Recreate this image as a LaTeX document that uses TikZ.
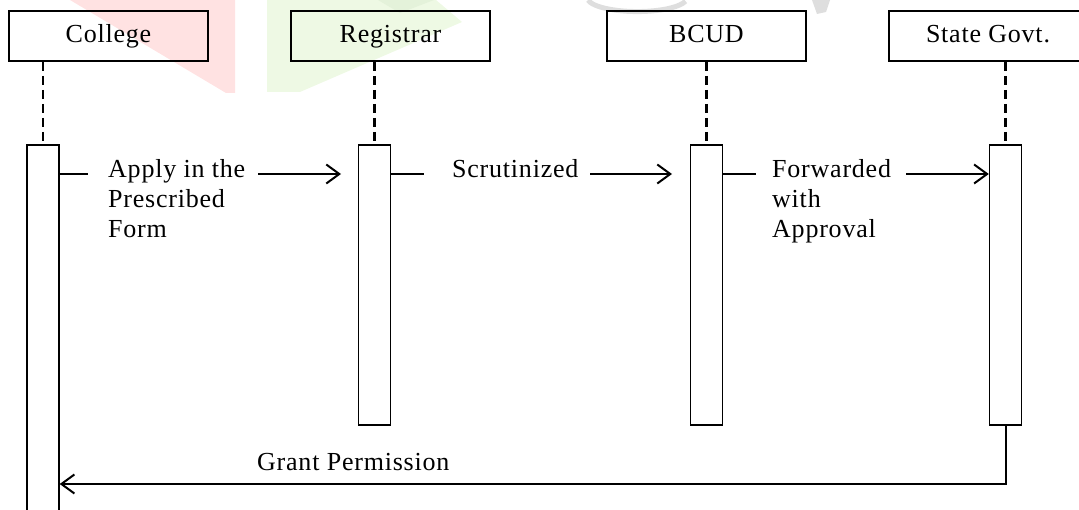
\documentclass[tikz,border=0pt]{standalone}
\usepackage{fontspec}
\setmainfont{Liberation Serif}[LetterSpace=3]
\usetikzlibrary{arrows.meta}

\definecolor{wmred}{RGB}{255,226,226}
\definecolor{wmgreen}{RGB}{238,249,228}
\definecolor{wmgreendk}{RGB}{228,242,218}
\definecolor{wmgrey}{RGB}{222,222,222}

\tikzset{
  head/.style={draw, line width=2pt, minimum width=199pt, minimum height=50pt,
    inner sep=0pt, text height=19pt, text depth=5pt,
    font=\fontsize{26}{30}\selectfont},
  act/.style={draw, line width=1.4pt, minimum width=32pt, inner sep=0pt},
  lifeline/.style={line width=2.4pt, dash pattern=on 9pt off 5pt},
  msg/.style={line width=2pt},
  tip/.style={-{Straight Barb[length=13pt,width=19pt]}},
  lbl/.style={inner sep=0pt, align=left, font=\fontsize{26}{30}\selectfont}
}

\begin{document}
\begin{tikzpicture}[x=1pt,y=-1pt]
\useasboundingbox (0,0) rectangle (1079,510);
\clip (0,0) rectangle (1079,510);

% faint logo shapes behind the headers
\fill[wmred] (70,0) -- (235,0) -- (235,93) -- (226,93) -- cycle;
\fill[wmgreen] (267,0) -- (436,0) -- (462,22) -- (300,92) -- (267,92) -- cycle;
\fill[wmgreendk] (378,0) -- (434,0) -- (400,13) -- cycle;
\draw[wmgrey, line width=5pt] (588,0) arc[start angle=190, end angle=345, x radius=50, y radius=-14];
\fill[wmgrey] (812,0) -- (830,0) -- (826,12) -- (817,14) -- cycle;

% participants
\node[head] (col) at (108.5,36) {College};
\node[head] (reg) at (390.5,36) {Registrar};
\node[head] (bcud) at (706.5,36) {BCUD};
\node[head] (sg) at (988,36) {State Govt.};

% activation bars
\node[act, minimum height=380pt] (colA) at (43,335) {};
\node[act, minimum height=280pt] (regA) at (374.5,285) {};
\node[act, minimum height=280pt] (bcudA) at (706.5,285) {};
\node[act, minimum height=280pt] (sgA) at (1005.5,285) {};

% lifelines
\draw[lifeline] (colA.north |- col.south) -- (colA.north);
\draw[lifeline] (regA.north |- reg.south) -- (regA.north);
\draw[lifeline] (bcudA.north |- bcud.south) -- (bcudA.north);
\draw[lifeline] (sgA.north |- sg.south) -- (sgA.north);

% message labels
\node[lbl, anchor=north west] (t1) at (108,159) {Apply in the\\Prescribed\\Form};
\node[lbl, anchor=north west] (t2) at (452,159) {Scrutinized};
\node[lbl, anchor=north west] (t3) at (772,159) {Forwarded\\with\\Approval};
\node[lbl, anchor=north west] (t4) at (257,453) {Grant Permission};

% message connectors
\coordinate (m1a) at (88,174);
\coordinate (m1b) at (258,174);
\coordinate (m1c) at (341,174);
\draw[msg] (colA.east |- m1a) -- (m1a);
\draw[msg, tip] (m1b) -- (m1c);

\coordinate (m2a) at (424,174);
\coordinate (m2b) at (590,174);
\coordinate (m2c) at (672,174);
\draw[msg] (regA.east |- m2a) -- (m2a);
\draw[msg, tip] (m2b) -- (m2c);

\coordinate (m3a) at (756,174);
\coordinate (m3b) at (906,174);
\draw[msg] (bcudA.east |- m3a) -- (m3a);
\draw[msg, tip] (m3b) -- (sgA.west |- m3b);

\coordinate (m4) at (0,484);
\draw[msg, tip] (sgA.south) |- (colA.east |- m4);
\end{tikzpicture}
\end{document}
